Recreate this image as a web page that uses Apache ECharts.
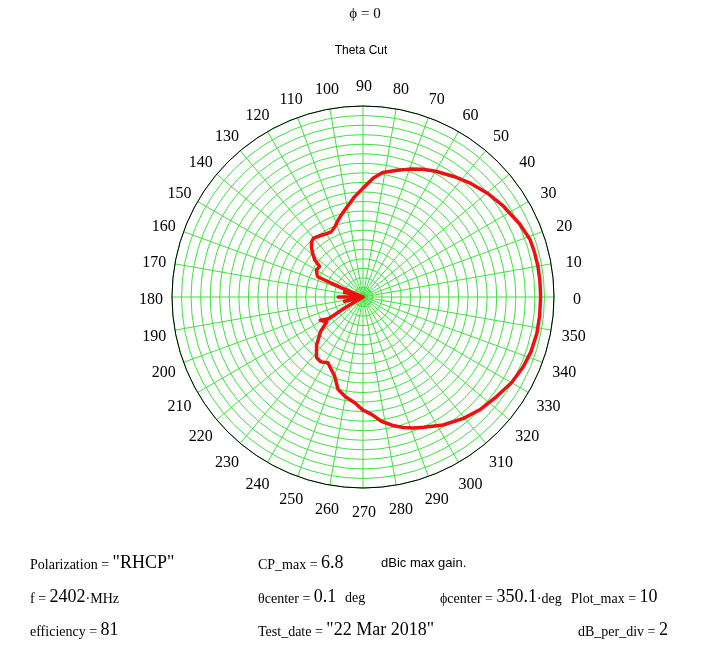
<!DOCTYPE html>
<html>
<head>
<meta charset="utf-8">
<script src="https://cdn.jsdelivr.net/npm/echarts@6/dist/echarts.min.js"></script>
<style>
html,body{margin:0;padding:0;background:#fff;}
#chart{width:721px;height:648px;}
</style>
</head>
<body>
<div id="chart"></div>
<script>
// Theta cut pattern, traced in drawing order: angle (deg) and gain (dB)
var thetaDeg = [0,5,10,15,19,25,33,40,47,53,60,65,70,75,81,85,90,95,99,104,108,112,116,120,124,130,133,136,139,142.5,145,150,154,156,157,158.5,166,172,180,188,193,200,207,209,211,212.5,208.5,214.5,219,226,232.5,237,241.9,246,250.3,254.8,260,265.5,270,274,278.4,283,287.2,291,295,302,309.6,316,323.3,330,336.5,342,348.2,354,360];
var gainDb   = [7.2,7.2,7.2,7.1,7.0,6.2,5.0,3.9,2.7,1.6,0.4,-0.5,-1.5,-2.5,-3.6,-5.0,-7.2,-9.0,-10.5,-12.0,-13.1,-14.2,-14.8,-14.7,-14.4,-13.9,-14.2,-15.0,-16.0,-17.3,-18.9,-18.7,-19.3,-19.7,-25,-30,-26,-30,-24.8,-30,-26,-30,-30,-30,-25.6,-21.5,-19.8,-20.8,-18.6,-16.0,-14.0,-13.8,-14.4,-13.5,-12.4,-10.0,-8.8,-7.8,-6.3,-5.4,-3.7,-2.4,-1.4,-0.6,0.1,1.6,3.0,4.0,4.9,5.9,6.6,7.0,7.2,7.2,7.2];

// Axis settings
var angleTicks = [0,10,20,30,40,50,60,70,80,90,100,110,120,130,140,150,160,170,180,190,200,210,220,230,240,250,260,270,280,290,300,310,320,330,340,350];
var plotMin = -30, plotMax = 10, dbPerDiv = 2;

// Info text
var infoRows = [
  {x:30,  y:565, name:'Polarization = ', value:'"RHCP"'},
  {x:258, y:565, name:'CP_max = ', value:'6.8'},
  {x:30,  y:599, name:'f = ', value:'2402', unit:'·MHz'},
  {x:258, y:599, name:'θcenter = ', value:'0.1'},
  {x:440, y:599, name:'ϕcenter = ', value:'350.1', unit:'·deg'},
  {x:571, y:599, name:'Plot_max = ', value:'10'},
  {x:30,  y:632, name:'efficiency = ', value:'81'},
  {x:258, y:632, name:'Test_date = ', value:'"22 Mar 2018"'},
  {x:578, y:632, name:'dB_per_div = ', value:'2'}
];

// ---- layout constants ----
var CX = 363, CY = 297, R = 191;
var LABEL_R = 213;          // label centre distance from pole
var SHIFT_X = 1, SHIFT_Y = 3;
var MARGIN = -6;
var seriesData = thetaDeg.map(function(a, i){ return [gainDb[i], a]; });

// per-label rich boxes so every label is centred on LABEL_R
var rich = {};
angleTicks.forEach(function(v){
  var t = v * Math.PI / 180;
  var c = Math.cos(t), s = Math.sin(t);
  var d = LABEL_R - R - MARGIN;
  var pr = (R + MARGIN) / R;
  var ox = d * c + SHIFT_X;      // desired centre offset from anchor (screen coords)
  var oy = -d * s + SHIFT_Y;
  var ax = Math.abs(c) * pr < 0.3 ? 0 : 1;
  var ay = Math.abs(s) * pr < 0.3 ? 0 : 1;
  var w = 30, h = 18, pad = [0, 0, 0, 0];
  if (ax) { w = Math.max(2 * Math.abs(ox), 1); }
  else { if (ox > 0) pad[3] = 2 * ox; else pad[1] = -2 * ox; }
  if (ay) { h = Math.max(2 * Math.abs(oy), 1); }
  else { if (oy > 0) pad[0] = 2 * oy; else pad[2] = -2 * oy; }
  rich['l' + v] = {fontFamily:'Liberation Serif', fontSize:16, color:'#000', width:w, height:h, lineHeight:h, padding:pad, align:'center', verticalAlign:'middle'};
});

var graphics = infoRows.map(function(r){
  var t = '{n|' + r.name + '}{v|' + r.value + '}' + (r.unit ? '{u|' + r.unit + '}' : '');
  return {
    type:'text', left:r.x, top:r.y - 11,
    style:{
      text:t, fill:'#000',
      rich:{
        n:{fontFamily:'Liberation Serif', fontSize:14, fill:'#000', verticalAlign:'bottom', lineHeight:22},
        v:{fontFamily:'Liberation Serif', fontSize:18, fill:'#000', verticalAlign:'bottom', lineHeight:22},
        u:{fontFamily:'Liberation Serif', fontSize:14, fill:'#000', verticalAlign:'bottom', lineHeight:22}
      }
    }
  };
});
graphics.push({type:'text', left:345, top:591, style:{text:'deg', fontFamily:'Liberation Serif', fontSize:14, fill:'#000'}});
graphics.push({type:'text', left:381, top:557, style:{text:'dBic max gain.', fontFamily:'Liberation Sans', fontSize:13, fill:'#000'}});
graphics.push({type:'text', x:365, y:14, style:{text:'ϕ = 0', fontFamily:'Liberation Serif', fontSize:15, fill:'#000', align:'center', verticalAlign:'middle'}});
graphics.push({type:'text', x:361, y:51, style:{text:'Theta Cut', fontFamily:'Liberation Sans', fontSize:12, fill:'#000', align:'center', verticalAlign:'middle'}});

var chart = echarts.init(document.getElementById('chart'), null, {renderer:'canvas'});
chart.setOption({
  animation:false,
  backgroundColor:'#fff',
  polar:{center:[CX, CY], radius:R},
  angleAxis:{
    type:'value', min:0, max:360, interval:10, startAngle:0, clockwise:false,
    axisLine:{show:true, lineStyle:{color:'#000', width:1}},
    axisTick:{show:false},
    splitLine:{show:true, lineStyle:{color:'#3fe03f', width:1}},
    axisLabel:{
      margin:MARGIN,
      formatter:function(v){ return angleTicks.indexOf(v) >= 0 ? '{l' + v + '|' + v + '}' : ''; },
      rich:rich
    }
  },
  radiusAxis:{
    type:'value', min:plotMin, max:plotMax, interval:dbPerDiv,
    axisLine:{show:false}, axisTick:{show:false}, axisLabel:{show:false},
    splitLine:{show:true, lineStyle:{color:'#3fe03f', width:1}}
  },
  series:[{
    type:'line', coordinateSystem:'polar', data:seriesData,
    showSymbol:false, symbol:'none', smooth:false,
    lineStyle:{color:'#ee1111', width:3.5, join:'round', cap:'round'},
    z:5
  }],
  graphic:graphics
});
</script>
</body>
</html>
